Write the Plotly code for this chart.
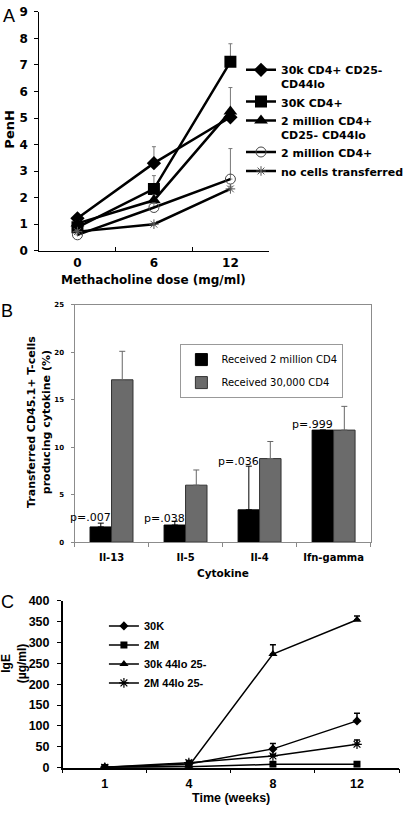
import plotly.graph_objects as go

W, H = 409, 813
def fx(p):
    return p / W
def fy(p):
    return 1 - p / H

# ---------------- Panel A data ----------------
doses = ["0", "6", "12"]
a_names = ["30k CD4+ CD25-<br>CD44lo", "30K CD4+", "2 million CD4+<br>CD25- CD44lo",
           "2 million CD4+", "no cells transferred"]
a_30k_sub = [1.22, 3.3, 5.03]
a_30k_sub_err = [0.15, 0.62, 0.1]
a_30k = [0.88, 2.33, 7.12]
a_30k_err = [0.12, 0.5, 0.68]
a_2m_sub = [1.03, 1.9, 5.25]
a_2m_sub_err = [0.1, 0.2, 0.9]
a_2m = [0.6, 1.63, 2.7]
a_2m_err = [0.1, 0.15, 1.15]
a_none = [0.72, 1.0, 2.33]
a_none_err = [0.05, 0.05, 0.1]

# ---------------- Panel B data ----------------
cytokines = ["Il-13", "Il-5", "Il-4", "Ifn-gamma"]
b_2m = [1.6, 1.8, 3.4, 11.8]
b_2m_err = [0.4, 0.4, 4.6, 0.0]
b_30k = [17.1, 6.0, 8.8, 11.8]
b_30k_err = [3.0, 1.6, 1.8, 2.5]
p_labels = ["p=.007", "p=.038", "p=.036", "p=.999"]
p_y = [2.6, 2.5, 8.5, 12.4]

# ---------------- Panel C data ----------------
weeks = ["1", "4", "8", "12"]
c_30k = [1, 9, 45, 112]
c_30k_err = [0.5, 5, 13, 18]
c_2m = [0.5, 2, 8, 8]
c_2m_err = [0.3, 1, 2, 2]
c_30k_sub = [0.5, 4, 272, 354]
c_30k_sub_err = [0.3, 2, 22, 9]
c_2m_sub = [1, 12, 28, 56]
c_2m_sub_err = [0.5, 5, 4, 10]

VERD = "DejaVu Sans"
ARIAL = "Liberation Sans"

fig = go.Figure()

def zeros(n):
    return [0] * n

# Panel A traces
a_series = [
    (a_names[0], a_30k_sub, a_30k_sub_err, dict(symbol="diamond", size=11, color="black")),
    (a_names[1], a_30k, a_30k_err, dict(symbol="square", size=12, color="black")),
    (a_names[2], a_2m_sub, a_2m_sub_err, dict(symbol="triangle-up", size=12, color="black")),
    (a_names[3], a_2m, a_2m_err, dict(symbol="circle-open", size=10, color="#444",
                                       line=dict(color="#444", width=1))),
    (a_names[4], a_none, a_none_err, dict(symbol="asterisk-open", size=8, color="#555",
                                          line=dict(color="#555", width=1))),
]
for name, ys, es, mk in a_series:
    fig.add_trace(go.Scatter(
        x=doses, y=ys, name=name, mode="lines+markers",
        line=dict(color="black", width=2.5), marker=mk,
        error_y=dict(type="data", symmetric=False, array=es, arrayminus=zeros(len(es)),
                     color="#777", thickness=1, width=2),
        xaxis="x", yaxis="y", legend="legend", hoverinfo="skip"))

# Panel B traces
fig.add_trace(go.Bar(
    x=cytokines, y=b_2m, name="Received 2 million CD4",
    marker=dict(color="black", line=dict(color="black", width=1)),
    error_y=dict(type="data", symmetric=False, array=b_2m_err, arrayminus=zeros(4),
                 color="black", thickness=1, width=3),
    xaxis="x2", yaxis="y2", legend="legend2", legendgroup="b1", hoverinfo="skip"))
fig.add_trace(go.Bar(
    x=cytokines, y=b_30k, name="Received 30,000 CD4",
    marker=dict(color="#6b6b6b", line=dict(color="#333333", width=1)),
    error_y=dict(type="data", symmetric=False, array=b_30k_err, arrayminus=zeros(4),
                 color="#666666", thickness=1, width=3),
    xaxis="x2", yaxis="y2", legend="legend2", legendgroup="b2", hoverinfo="skip"))

# Panel C traces
c_series = [
    ("30K", c_30k, c_30k_err, dict(symbol="diamond", size=7, color="black")),
    ("2M", c_2m, c_2m_err, dict(symbol="square", size=7, color="black")),
    ("30k 44lo 25-", c_30k_sub, c_30k_sub_err, dict(symbol="triangle-up", size=8, color="black")),
    ("2M 44lo 25-", c_2m_sub, c_2m_sub_err, dict(symbol="asterisk-open", size=8, color="black",
                                                 line=dict(color="black", width=1.2))),
]
for name, ys, es, mk in c_series:
    fig.add_trace(go.Scatter(
        x=weeks, y=ys, name=name, mode="lines+markers",
        line=dict(color="black", width=1.5), marker=mk,
        error_y=dict(type="data", symmetric=False, array=es, arrayminus=zeros(len(es)),
                     color="black", thickness=1.5, width=3),
        xaxis="x3", yaxis="y3", legend="legend3", hoverinfo="skip"))

annotations = []
# p-value labels
for cat, lab, yv in zip(cytokines, p_labels, p_y):
    annotations.append(dict(x=cat, y=yv, xref="x2", yref="y2", text=lab, showarrow=False,
                            xshift=-21, font=dict(family=VERD, size=11, color="black")))

def txt(x, y, text, size, family, bold=True, angle=0):
    annotations.append(dict(x=fx(x), y=fy(y), xref="paper", yref="paper", text=text,
                            showarrow=False, textangle=angle, xanchor="center", yanchor="middle",
                            font=dict(family=family, size=size, color="black",
                                      weight="bold" if bold else "normal")))

# panel letters
txt(9, 9, "A", 18, ARIAL, bold=False)
txt(7, 309, "B", 18, ARIAL, bold=False)
txt(8, 605, "C", 18, ARIAL, bold=False)
# axis titles
txt(10, 125, "PenH", 13, VERD, angle=-90)
txt(157, 278, "Methacholine dose (mg/ml)", 12, VERD)
txt(40, 422, "Transferred CD45.1+ T-cells<br>producing cytokine (%)", 11, VERD, angle=-90)
txt(227, 576, "Cytokine", 10.5, VERD)
txt(15, 668, "IgE<br>(µg/ml)", 12, ARIAL, angle=-90)
txt(236, 805, "Time (weeks)", 12.5, ARIAL)

fig.update_layout(
    width=W, height=H, autosize=False,
    margin=dict(l=0, r=0, t=0, b=0),
    paper_bgcolor="white", plot_bgcolor="white",
    bargap=0.42, bargroupgap=0, barmode="group",
    annotations=annotations,
    xaxis=dict(domain=[fx(40), fx(274)], type="category", range=[-0.5, 2.5],
               tickson="boundaries",
               ticks="inside", ticklen=4, tickcolor="black", showline=True, linecolor="black",
               linewidth=1, showgrid=False, zeroline=False, anchor="y",
               tickfont=dict(family=VERD, size=12, color="black", weight="bold"),
               ticklabelstandoff=1),
    yaxis=dict(domain=[fy(248), fy(5)], range=[0, 9], dtick=1, ticks="outside", ticklen=4,
               tickcolor="black", showline=True, linecolor="black", linewidth=1,
               showgrid=False, zeroline=False, anchor="x",
               tickfont=dict(family=VERD, size=12, color="black", weight="bold"),
               ticklabelstandoff=4),
    xaxis2=dict(domain=[fx(76), fx(378)], type="category", range=[-0.5, 3.5],
                tickson="boundaries",
                ticks="outside", ticklen=4, tickcolor="#888", showline=True, mirror=True,
                linecolor="#8c8c8c", linewidth=1, showgrid=False, zeroline=False, anchor="y2",
                tickfont=dict(family=VERD, size=10, color="black", weight="bold"),
                ticklabelstandoff=6),
    yaxis2=dict(domain=[fy(544.5), fy(303)], range=[0, 25], dtick=5, ticks="outside", ticklen=3,
                tickcolor="#888", showline=True, mirror=True, linecolor="#8c8c8c", linewidth=1,
                showgrid=False, zeroline=False, anchor="x2",
                tickfont=dict(family=VERD, size=7, color="black", weight="bold"),
                ticklabelstandoff=5),
    xaxis3=dict(domain=[fx(64), fx(407)], type="category", range=[-0.5, 3.5],
                tickson="boundaries",
                ticks="outside", ticklen=4, tickcolor="black", showline=True, linecolor="black",
                linewidth=1.5, showgrid=False, zeroline=False, anchor="y3",
                tickfont=dict(family=ARIAL, size=12.5, color="black", weight="bold"),
                ticklabelstandoff=4),
    yaxis3=dict(domain=[fy(774), fy(604)], range=[0, 400], dtick=50, ticks="outside", ticklen=4,
                tickcolor="black", showline=True, linecolor="black", linewidth=1.5,
                showgrid=False, zeroline=False, anchor="x3",
                tickfont=dict(family=ARIAL, size=12.5, color="black", weight="bold"),
                ticklabelstandoff=5),
    legend=dict(x=fx(246), y=fy(50), xanchor="left", yanchor="top", valign="top",
                bgcolor="rgba(0,0,0,0)", borderwidth=0,
                font=dict(family=VERD, size=11, color="black", weight="bold")),
    legend2=dict(x=fx(184), y=fy(343), xanchor="left", yanchor="top", traceorder="grouped",
                 tracegroupgap=4, bgcolor="white", bordercolor="#999", borderwidth=1,
                 font=dict(family=VERD, size=10, color="black")),
    legend3=dict(x=fx(106), y=fy(615), xanchor="left", yanchor="top",
                 bgcolor="rgba(0,0,0,0)", borderwidth=0,
                 font=dict(family=ARIAL, size=11, color="black", weight="bold")),
)

fig.write_html("out.html", config={"displayModeBar": False},
               post_script="document.body.style.margin='0px';")
